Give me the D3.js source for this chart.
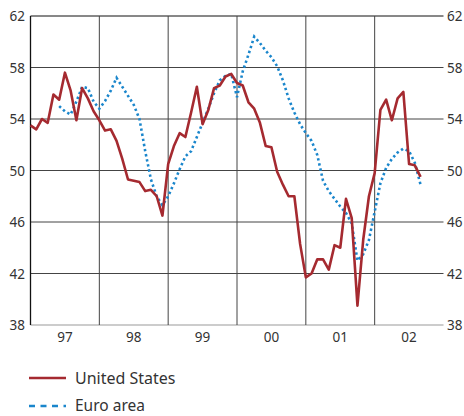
<!DOCTYPE html>
<html><head><meta charset="utf-8">
<script src="https://cdn.jsdelivr.net/npm/d3@7/dist/d3.min.js"></script>
<style>
html,body{margin:0;padding:0;background:#fff;}
svg{display:block;}
text{font-family:"Noto Sans",sans-serif;fill:#333;}
</style></head>
<body>
<svg id="chart" width="464" height="416"></svg>
<script>
// Monthly values, Jan 1997 (index 0) onward
const usStart = 0;
const usValues = [53.5,53.2,54.0,53.7,55.9,55.5,57.6,56.2,53.9,56.4,55.6,54.6,
  53.9,53.1,53.2,52.3,50.9,49.3,49.2,49.1,48.4,48.5,48.0,46.5,
  50.5,51.9,52.9,52.6,54.5,56.5,53.6,54.7,56.4,56.6,57.3,57.5,
  56.8,56.6,55.3,54.8,53.7,51.9,51.8,49.9,48.9,48.0,48.0,44.3,
  41.7,42.0,43.1,43.1,42.3,44.2,44.0,47.8,46.3,39.5,44.6,48.0,
  49.8,54.7,55.5,53.9,55.6,56.1,50.5,50.4,49.5];
const euroStart = 5;
const euroValues = [55.0,54.6,54.35,55.35,56.5,56.4,55.35,
  54.8,55.4,56.2,57.2,56.5,55.8,55.1,54.0,51.5,49.3,48.0,47.3,
  48.0,49.0,50.1,51.1,51.5,52.6,53.7,54.8,56.0,57.0,57.35,57.5,
  55.7,57.7,59.0,60.4,59.9,59.3,58.8,58.1,57.0,55.6,54.5,53.6,
  52.9,52.3,51.2,49.2,48.4,47.8,47.2,46.7,45.9,43.0,43.5,44.6,
  46.8,49.0,50.2,50.9,51.4,51.7,51.5,50.6,48.9];
const yearLabels = ["97","98","99","00","01","02"];
const yTicks = [38,42,46,50,54,58,62];
const seriesNames = ["United States","Euro area"];

const svg = d3.select("#chart");
const pLeft = 30.5, pRight = 443.5, pTop = 16, pBottom = 325;
const x = d3.scaleLinear().domain([0,72]).range([pLeft,pRight]);
const y = d3.scaleLinear().domain([38,62]).range([pBottom,pTop]);

// horizontal grid
svg.append("g").selectAll("line").data(yTicks.filter(d=>d>38)).join("line")
  .attr("x1",pLeft).attr("x2",pRight)
  .attr("y1",d=>y(d)).attr("y2",d=>y(d))
  .attr("stroke",d=>d===62?"#111":"#444").attr("stroke-width",1);
// bottom line
svg.append("line").attr("x1",pLeft).attr("x2",pRight).attr("y1",y(38)).attr("y2",y(38))
  .attr("stroke","#999").attr("stroke-width",1.2);
// vertical year lines
svg.append("g").selectAll("line").data([12,24,36,48,60]).join("line")
  .attr("x1",d=>x(d)).attr("x2",d=>x(d)).attr("y1",pTop).attr("y2",pBottom)
  .attr("stroke","#444").attr("stroke-width",1);
// left axis line
svg.append("line").attr("x1",pLeft).attr("x2",pLeft).attr("y1",pTop).attr("y2",pBottom)
  .attr("stroke","#111").attr("stroke-width",1.3);

// tick labels
const fs = "13.5px";
svg.append("g").selectAll("text").data(yTicks).join("text")
  .attr("x",25).attr("y",d=>y(d)).attr("text-anchor","end")
  .attr("dominant-baseline","central").style("font-size",fs).text(d=>d);
svg.append("g").selectAll("text").data(yTicks).join("text")
  .attr("x",447).attr("y",d=>y(d)).attr("text-anchor","start")
  .attr("dominant-baseline","central").style("font-size",fs).text(d=>d);
svg.append("g").selectAll("text").data(yearLabels).join("text")
  .attr("x",(d,i)=>x(i*12+6)).attr("y",337).attr("text-anchor","middle")
  .attr("dominant-baseline","central").style("font-size",fs).text(d=>d);

const line = d3.line().x(d=>x(d[0])).y(d=>y(d[1]));
const euroData = euroValues.map((v,i)=>[euroStart+i,v]);
const usData = usValues.map((v,i)=>[usStart+i,v]);

svg.append("path").datum(euroData).attr("d",line).attr("fill","none")
  .attr("stroke","#1a86cc").attr("stroke-width",2.6)
  .attr("stroke-dasharray","2.4,2.8");
svg.append("path").datum(usData).attr("d",line).attr("fill","none")
  .attr("stroke","#a52a30").attr("stroke-width",2.6).attr("stroke-linejoin","round");

// legend
const lg = svg.append("g");
lg.append("line").attr("x1",29).attr("x2",66).attr("y1",378).attr("y2",378)
  .attr("stroke","#a52a30").attr("stroke-width",2.6);
lg.append("text").attr("x",75).attr("y",378).attr("dominant-baseline","central")
  .style("font-size","16px").text(seriesNames[0]);
lg.append("line").attr("x1",29).attr("x2",66).attr("y1",406).attr("y2",406)
  .attr("stroke","#1a86cc").attr("stroke-width",2.6).attr("stroke-dasharray","6,5.5");
lg.append("text").attr("x",75).attr("y",405).attr("dominant-baseline","central")
  .style("font-size","15.5px").text(seriesNames[1]);
</script>
</body></html>
